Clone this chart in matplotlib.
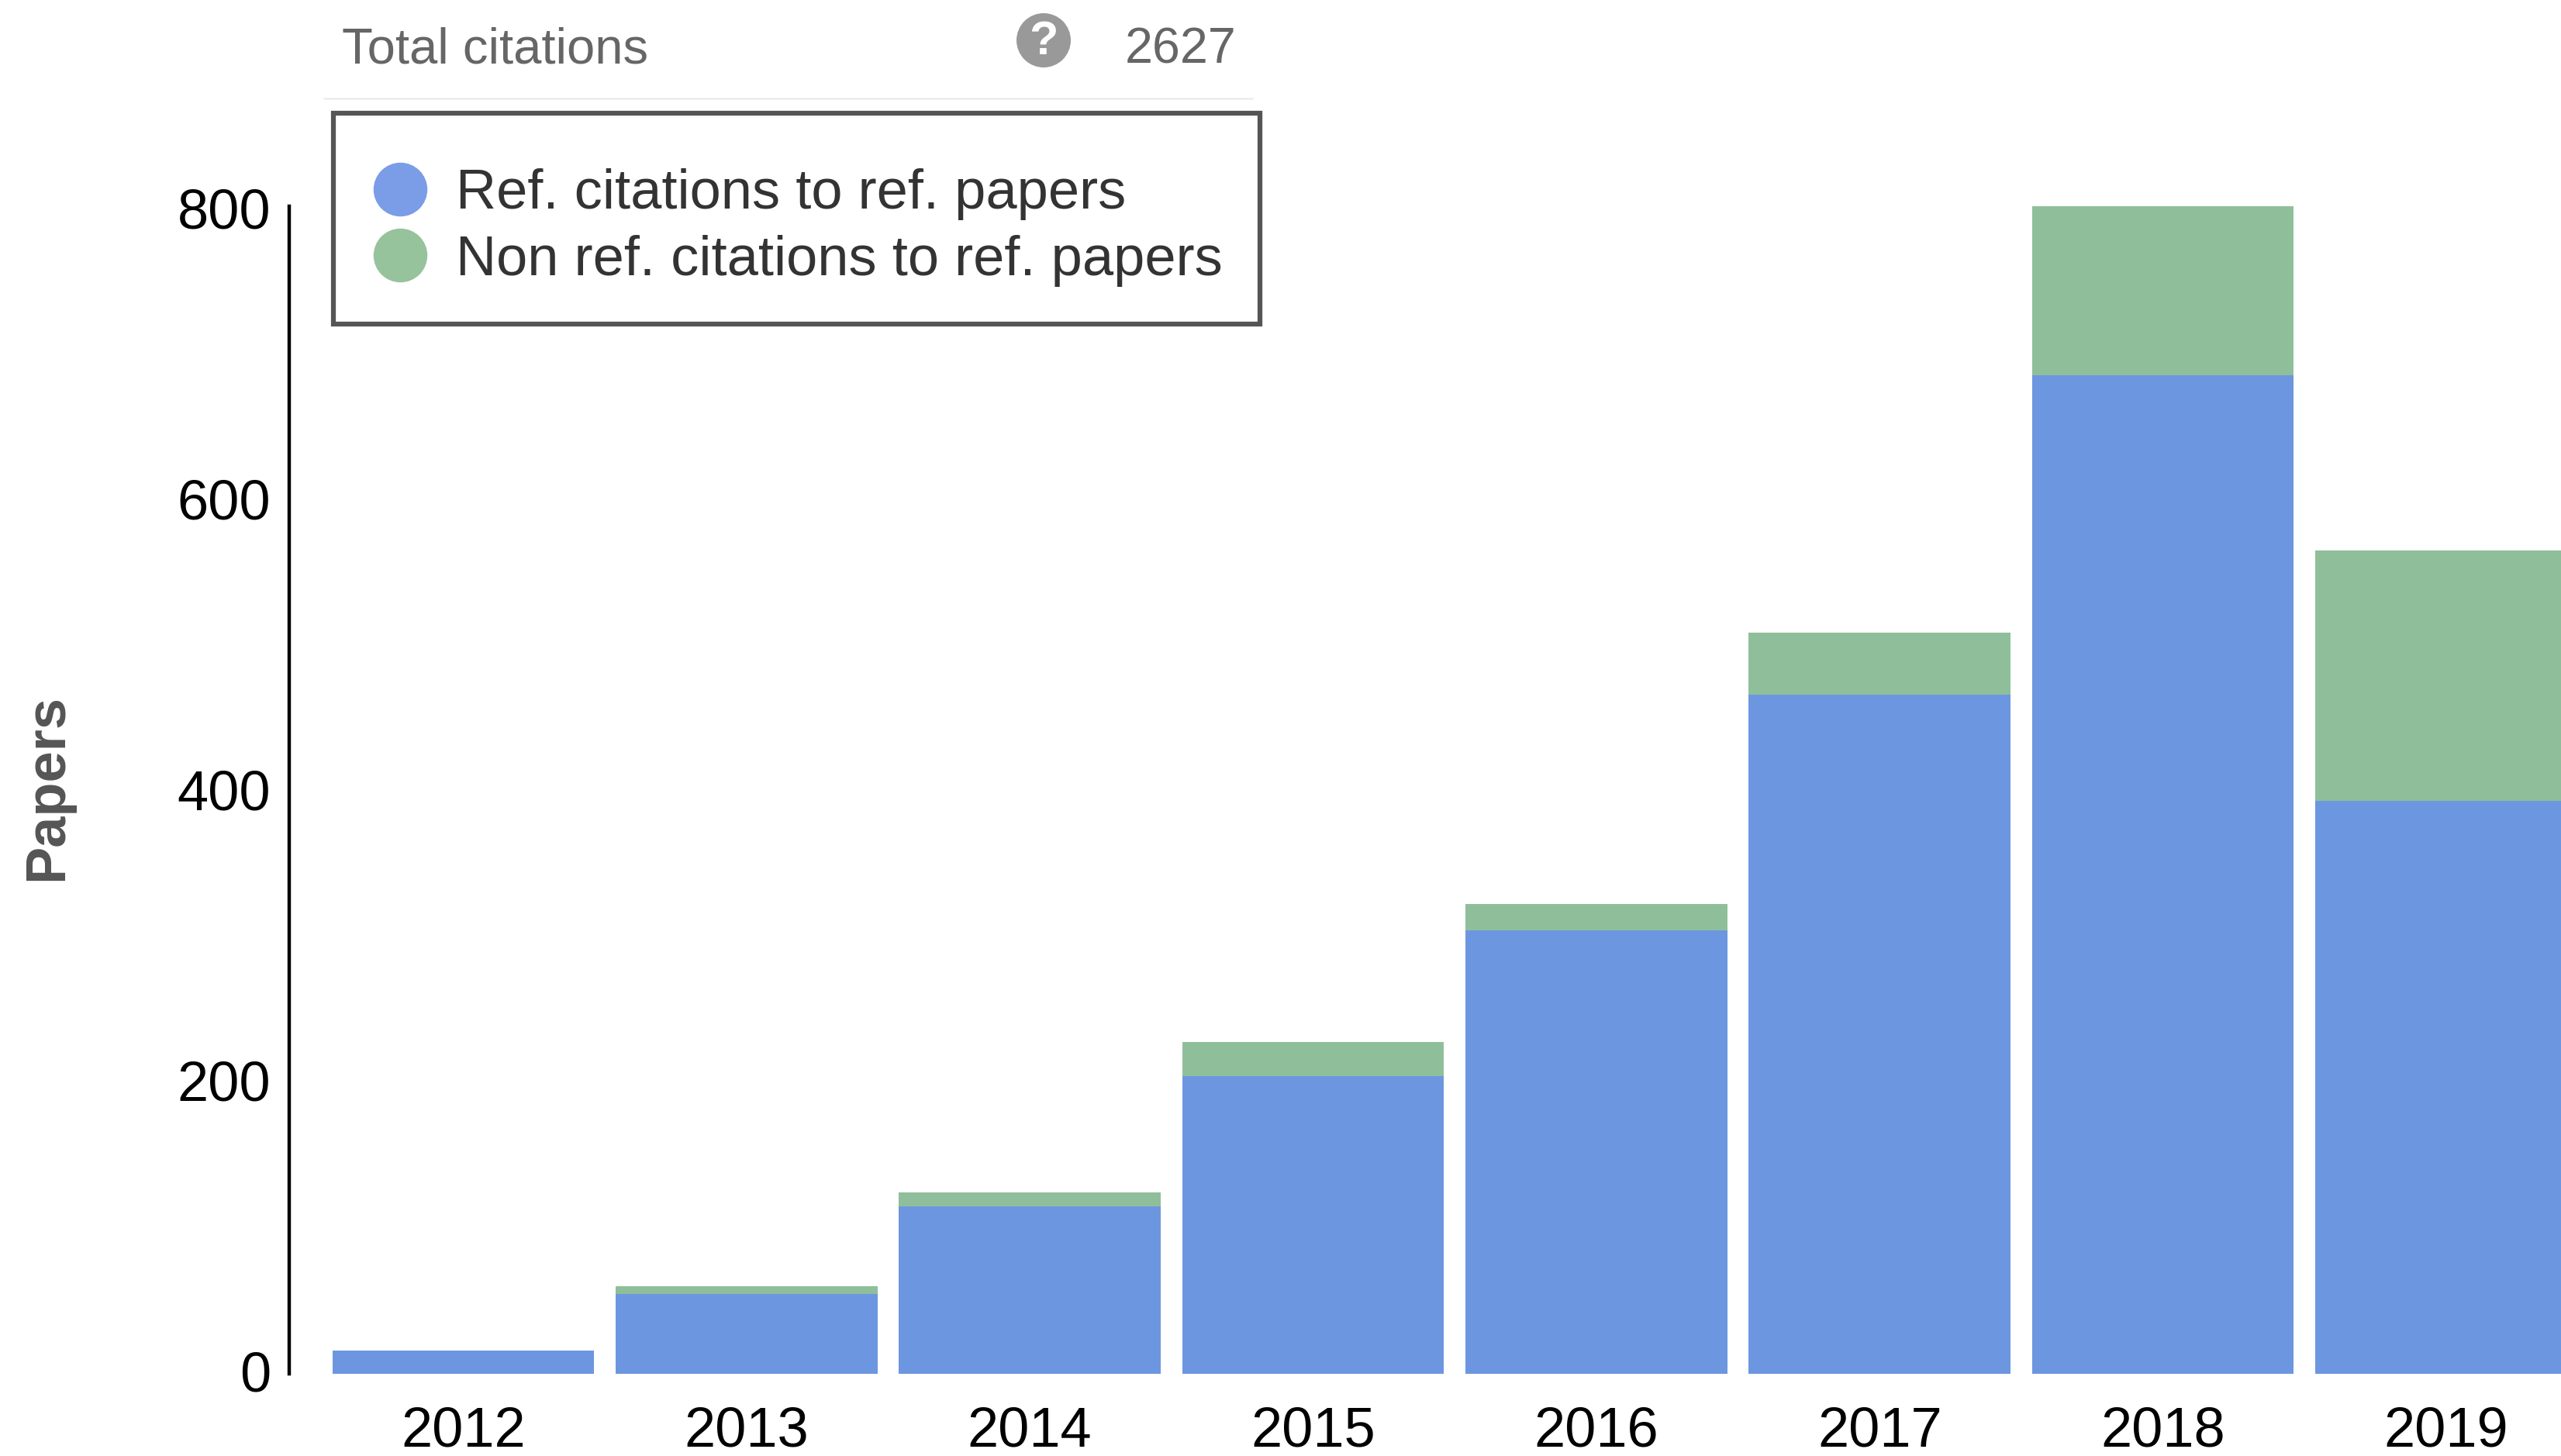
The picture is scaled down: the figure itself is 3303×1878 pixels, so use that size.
import numpy as np
import matplotlib.pyplot as plt
from matplotlib.lines import Line2D
from matplotlib.patches import Circle
from matplotlib.transforms import ScaledTranslation

plt.rcParams['font.family'] = ['Liberation Sans', 'DejaVu Sans']

years = ['2012', '2013', '2014', '2015', '2016', '2017', '2018', '2019']
ref_citations = [16, 55, 115, 205, 305, 467, 687, 394]
non_ref_citations = [0, 5, 10, 23, 18, 43, 116, 172]
y_ticks = [0, 200, 400, 600, 800]
total_citations = '2627'
legend_labels = ['Ref. citations to ref. papers', 'Non ref. citations to ref. papers']

W, H = 3303, 1878
blue = '#6d96e0'
green = '#8fbf9a'

fig = plt.figure(figsize=(W / 100, H / 100), dpi=100, facecolor='white')
# axes box in pixels of the picture: left 373, bottom 1772, top 266
ax = fig.add_axes([373 / W, (H - 1772) / H, (W - 373) / W, (1772 - 266) / H])

x = np.arange(len(years))
ax.bar(x, ref_citations, width=0.924, color=blue)
ax.bar(x, non_ref_citations, width=0.924, bottom=ref_citations, color=green)

ax.set_xlim(-0.614, 7.405)
ax.set_ylim(0, 803)
ax.set_xticks(x)
ax.set_xticklabels(years)
ax.set_yticks(y_ticks)
ax.tick_params(axis='both', length=0, labelsize=52, labelcolor='black')
ax.tick_params(axis='x', pad=30)
ax.tick_params(axis='y', pad=17)
for s in ['top', 'right', 'bottom']:
    ax.spines[s].set_visible(False)
ax.spines['left'].set_linewidth(3.2)
ax.spines['left'].set_color('black')

# y labels sit a little higher than matplotlib centres them
for lab in ax.get_yticklabels():
    lab.set_transform(lab.get_transform() + ScaledTranslation(0, 2.5 / 72, fig.dpi_scale_trans))

fig.text(61 / W, 1 - 1015 / H, 'Papers', rotation=90, ha='center', va='center',
         fontsize=52, fontweight='bold', color='#555555')

# header row above the legend
fig.text(441 / W, 1 - 64 / H, 'Total citations', ha='left', va='center',
         fontsize=47, color='#666666')
fig.text(1594 / W, 1 - 64 / H, total_citations, ha='right', va='center',
         fontsize=46.5, color='#666666')
fig.add_artist(Line2D([418 / W, 1615 / W], [1 - 127 / H, 1 - 127 / H], color='#ececec', lw=1.8))
fig.add_artist(Circle((1346, H - 52), 35, transform=None, facecolor='#999999', edgecolor='none'))
fig.text(1346 / W, 1 - 54 / H, '?', ha='center', va='center', fontsize=44,
         fontweight='bold', color='white')

handles = [
    Line2D([], [], linestyle='none', marker='o', markersize=50, markeredgewidth=0, color='#7b9ce6'),
    Line2D([], [], linestyle='none', marker='o', markersize=50, markeredgewidth=0, color='#96c29c'),
]
# the tiny blank title pushes the rows down, the box has more room on top than below
leg = fig.legend(handles, legend_labels, loc='upper left', bbox_to_anchor=(430 / W, 1 - 146 / H),
                 borderaxespad=0, fontsize=52, labelcolor='#333333', fancybox=False,
                 framealpha=1, edgecolor='#555555', borderpad=0.665, handletextpad=0.473,
                 handlelength=1.054, labelspacing=0.26, title=' ', title_fontsize=2)
leg.get_frame().set_linewidth(4.5)

fig.savefig('out.png', dpi=100, facecolor='white')
